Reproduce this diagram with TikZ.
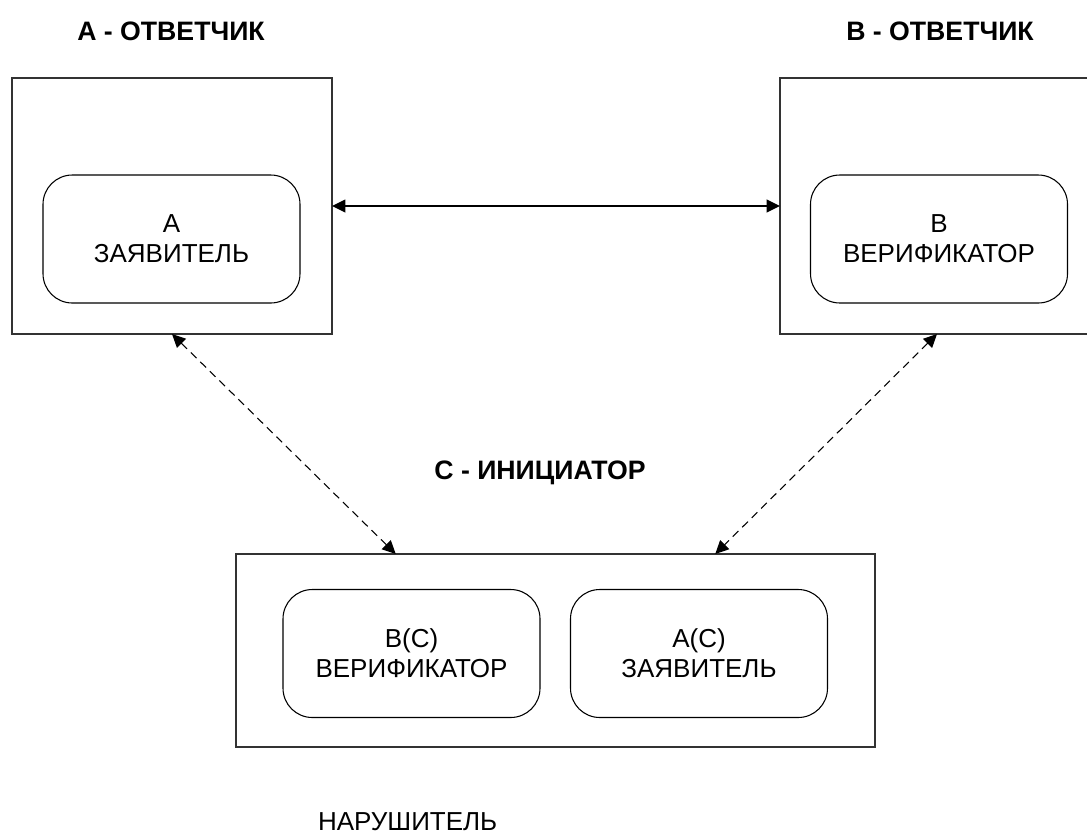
\documentclass[tikz,border=0pt]{standalone}
\usepackage{fontspec}
\setmainfont{Liberation Sans}
\usetikzlibrary{arrows.meta,calc}
\begin{document}
\begin{tikzpicture}[x=0.75pt,y=-0.75pt,
  every node/.style={inner sep=0pt,outer sep=0pt},
  lbl/.style={font=\fontsize{19.5}{22.5}\selectfont, align=center},
  ttl/.style={font=\fontsize{20}{24}\selectfont\bfseries},
  frame/.style={draw=black!80, line width=0.9pt, rectangle},
  role/.style={draw=black, line width=0.8pt, rounded corners=22pt,
    minimum width=192.75pt, minimum height=96pt, lbl},
  link/.style={line width=1.2pt, {Triangle[length=10pt,width=9.5pt]}-{Triangle[length=10pt,width=9.5pt]}},
  dlink/.style={line width=0.8pt, dash pattern=on 6pt off 4pt,
    {Triangle[length=10pt,width=9.5pt]}-{Triangle[length=10pt,width=9.5pt]}}]
\useasboundingbox (0,0) rectangle (1087,836);

% participant frames
\node[frame, minimum width=240pt, minimum height=192pt] (boxA) at (172,206) {};
\node[frame, minimum width=235.5pt, minimum height=192pt] (boxB) at (937,206) {};
\node[frame, minimum width=479.25pt, minimum height=144.75pt] (boxC) at (555.5,650.5) {};
\clip (0,0) rectangle (1087,836);

% titles
\node[ttl] (tA) at (171,31) {A - ОТВЕТЧИК};
\node[ttl] (tB) at (940,31) {B - ОТВЕТЧИК};
\node[ttl] (tC) at (540,473) {C - ИНИЦИАТОР};
\node[lbl, anchor=base west] (tD) at (318,830) {НАРУШИТЕЛЬ};

% roles inside the frames
\node[role] (rA) at (171.5,239) {A\\ЗАЯВИТЕЛЬ};
\node[role] (rB) at (939,239) {B\\ВЕРИФИКАТОР};
\node[role] (rBC) at (411.5,653.5) {B(C)\\ВЕРИФИКАТОР};
\node[role] (rAC) at (699,653.5) {A(C)\\ЗАЯВИТЕЛЬ};

% connections
\coordinate (cL) at ($(boxC.north west)!0.25!(boxC.north east)$);
\coordinate (cR) at ($(boxC.north west)!0.75!(boxC.north east)$);
\draw[link] (boxA.east) -- (boxB.west);
\draw[dlink] (boxA.south) -- (cL);
\draw[dlink] (boxB.south) -- (cR);
\end{tikzpicture}
\end{document}
